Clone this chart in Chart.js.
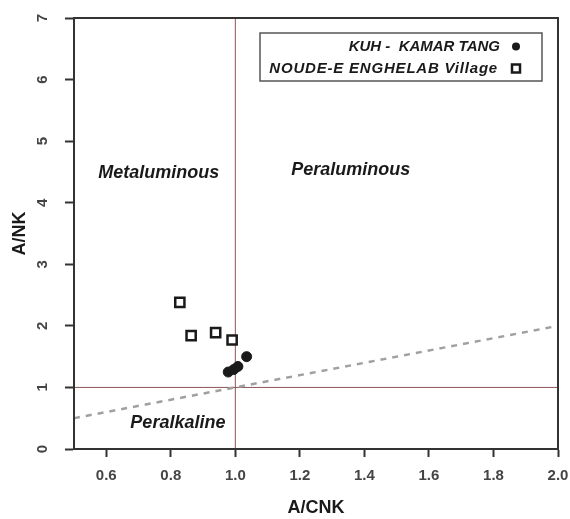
<!DOCTYPE html>
<html>
<head>
<meta charset="utf-8">
<script src="https://cdn.jsdelivr.net/npm/chart.js@4"></script>
<style>
  html, body { margin: 0; padding: 0; background: #fff; }
</style>
</head>
<body>
<canvas id="myChart" width="570" height="519"></canvas>
<script>
// samples
const kuhLabel = 'KUH -  KAMAR TANG';
const kuhX = [0.978, 0.995, 1.008, 1.035];
const kuhY = [1.25, 1.29, 1.34, 1.50];

const noudeLabel = 'NOUDE-E ENGHELAB Village';
const noudeX = [0.828, 0.863, 0.939, 0.990];
const noudeY = [2.38, 1.84, 1.89, 1.77];

// field boundaries
const aluminaX = [1.0, 1.0];
const aluminaY = [0, 7];
const alkaliX = [0.5, 2.0];
const alkaliY = [1, 1];
const peralkX = [0.5, 2.0];
const peralkY = [0.5, 2.0];

// axes
const xTicks = [0.6, 0.8, 1.0, 1.2, 1.4, 1.6, 1.8, 2.0];
const yTicks = [0, 1, 2, 3, 4, 5, 6, 7];

// field names and where they sit (data units)
const fieldNames = ['Metaluminous', 'Peraluminous', 'Peralkaline'];
const fieldX = [0.763, 1.358, 0.822];
const fieldY = [4.49, 4.53, 0.42];

const FONT = '"Liberation Sans", Arial, sans-serif';
const INK = '#1a1a1a';
const AXIS = '#333';

function pts(xs, ys) {
    return xs.map((x, i) => ({ x: x, y: ys[i] }));
}

// frame, field names and the boxed key
const decorations = {
    id: 'decorations',
    afterDatasetsDraw(chart) {
        const ctx = chart.ctx;
        const a = chart.chartArea;
        const xs = chart.scales.x, ys = chart.scales.y;

        ctx.save();
        ctx.strokeStyle = AXIS;
        ctx.lineWidth = 2;
        ctx.strokeRect(a.left, a.top, a.right - a.left, a.bottom - a.top);

        ctx.fillStyle = INK;
        ctx.font = 'italic bold 18px ' + FONT;
        ctx.textAlign = 'center';
        ctx.textBaseline = 'middle';
        for (let i = 0; i < fieldNames.length; i++) {
            ctx.fillText(fieldNames[i], xs.getPixelForValue(fieldX[i]), ys.getPixelForValue(fieldY[i]));
        }
        ctx.restore();
    },
    afterDraw(chart) {
        const ctx = chart.ctx;
        const a = chart.chartArea;
        const boxL = a.left + 186, boxR = a.right - 16;
        const boxT = a.top + 15, boxB = a.top + 63;
        const textR = boxR - 42, markX = boxR - 26;
        const row1 = boxT + 13.5, row2 = boxT + 35.5;

        ctx.save();
        ctx.fillStyle = '#fff';
        ctx.fillRect(boxL, boxT, boxR - boxL, boxB - boxT);
        ctx.strokeStyle = '#555';
        ctx.lineWidth = 1.5;
        ctx.strokeRect(boxL, boxT, boxR - boxL, boxB - boxT);

        ctx.fillStyle = INK;
        ctx.font = 'italic bold 15px ' + FONT;
        ctx.textAlign = 'right';
        ctx.textBaseline = 'middle';
        ctx.fillText(kuhLabel, textR, row1);
        ctx.letterSpacing = '0.8px';
        ctx.fillText(noudeLabel, textR - 2, row2);
        ctx.letterSpacing = '0px';

        ctx.beginPath();
        ctx.arc(markX, row1, 4, 0, Math.PI * 2);
        ctx.fill();

        ctx.strokeStyle = INK;
        ctx.lineWidth = 2.5;
        ctx.fillStyle = '#fff';
        ctx.fillRect(markX - 4, row2 - 4, 8, 8);
        ctx.strokeRect(markX - 4, row2 - 4, 8, 8);
        ctx.restore();
    }
};

const ctx = document.getElementById('myChart').getContext('2d');

const data = {
    datasets: [
        {
            label: kuhLabel,
            data: pts(kuhX, kuhY),
            pointStyle: 'circle',
            pointRadius: 5,
            backgroundColor: INK,
            borderColor: INK,
            borderWidth: 1,
            showLine: false,
            order: 0
        },
        {
            label: noudeLabel,
            data: pts(noudeX, noudeY),
            pointStyle: 'rect',
            pointRadius: 6.5,
            backgroundColor: '#fff',
            borderColor: INK,
            borderWidth: 2.5,
            showLine: false,
            order: 1
        },
        {
            label: 'A/CNK = 1',
            data: pts(aluminaX, aluminaY),
            showLine: true,
            borderColor: '#8e5555',
            borderWidth: 1,
            pointRadius: 0,
            order: 5
        },
        {
            label: 'A/NK = 1',
            data: pts(alkaliX, alkaliY),
            showLine: true,
            borderColor: '#8e5555',
            borderWidth: 1,
            pointRadius: 0,
            order: 5
        },
        {
            label: 'A/NK = A/CNK',
            data: pts(peralkX, peralkY),
            showLine: true,
            borderColor: '#a0a0a0',
            borderWidth: 2.5,
            borderDash: [6, 6],
            pointRadius: 0,
            order: 4
        }
    ]
};

const config = {
    type: 'scatter',
    data: data,
    plugins: [decorations],
    options: {
        responsive: false,
        animation: false,
        layout: { padding: { top: 18, right: 12, left: 0, bottom: 0 } },
        plugins: {
            legend: { display: false },
            tooltip: { enabled: false }
        },
        scales: {
            x: {
                type: 'linear',
                min: 0.5,
                max: 2.0,
                afterBuildTicks: s => { s.ticks = xTicks.map(v => ({ value: v })); },
                afterFit: s => {
                    s.height = 70;
                    s.paddingLeft = 0;
                    s.paddingRight = 0;
                },
                grid: { display: true, drawOnChartArea: false, drawTicks: true, tickLength: 8, tickWidth: 2, tickColor: AXIS },
                border: { display: true, color: AXIS, width: 2 },
                ticks: {
                    font: { family: FONT, size: 15, weight: 'bold' },
                    color: '#444',
                    padding: 10,
                    maxRotation: 0,
                    callback: v => Number(v).toFixed(1)
                },
                title: {
                    display: true,
                    text: 'A/CNK',
                    font: { family: FONT, size: 18, weight: 'bold' },
                    color: INK,
                    padding: { top: 0, bottom: 0 }
                }
            },
            y: {
                type: 'linear',
                min: 0,
                max: 7,
                afterBuildTicks: s => { s.ticks = yTicks.map(v => ({ value: v })); },
                afterFit: s => {
                    s.width = 74;
                    s.paddingTop = 0;
                    s.paddingBottom = 0;
                },
                grid: { display: true, drawOnChartArea: false, drawTicks: true, tickLength: 9, tickWidth: 2, tickColor: AXIS },
                border: { display: true, color: AXIS, width: 2 },
                ticks: {
                    font: { family: FONT, size: 15, weight: 'bold' },
                    color: '#444',
                    padding: 18,
                    minRotation: 90,
                    maxRotation: 90,
                    crossAlign: 'center'
                },
                title: {
                    display: true,
                    text: 'A/NK',
                    font: { family: FONT, size: 18, weight: 'bold' },
                    color: INK,
                    padding: { top: 9, bottom: 0 }
                }
            }
        }
    }
};

new Chart(ctx, config);
</script>
</body>
</html>
